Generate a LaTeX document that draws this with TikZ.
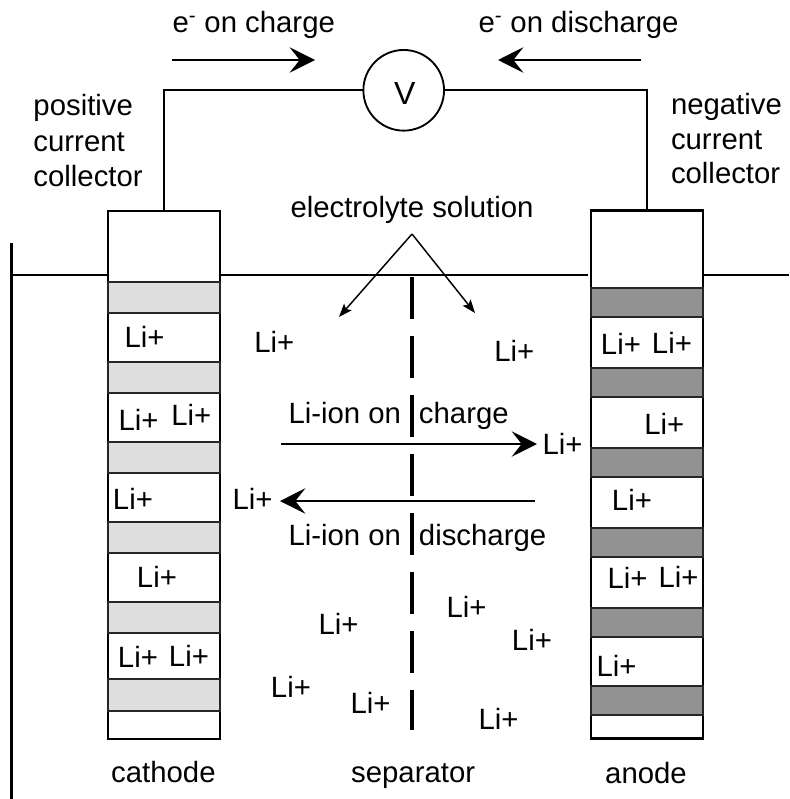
\documentclass[tikz,border=0pt]{standalone}
\usepackage{fontspec}
\setmainfont{Liberation Sans}
\usetikzlibrary{arrows.meta}
\tikzset{
  lbl/.style={anchor=base west,inner sep=0pt,outer sep=0pt,text=black,font=\fontsize{22}{26}\selectfont},
  cellbox/.style={draw=black,fill=white,inner sep=0pt,outer sep=0pt,minimum width=84pt,minimum height=396pt},
  wire/.style={draw=black,line width=1.5pt},
  bandc/.style={draw=black!85,line width=1.3pt,fill=catgrey},
  banda/.style={draw=black!85,line width=1.6pt,fill=angrey},
  bigarrow/.style={draw=black,line width=1.5pt,-{Stealth[length=19pt,width=19pt,inset=7.5pt]}},
  thinarrow/.style={draw=black,line width=1.1pt,-{Stealth[length=10pt,width=7.5pt,inset=2pt]}},
  membrane/.style={draw=black,line width=3.7pt,dash pattern=on 32pt off 12.25pt}
}
\definecolor{catgrey}{HTML}{DFDFDF}
\definecolor{angrey}{HTML}{929292}
\begin{document}
\begin{tikzpicture}[x=.75pt,y=-.75pt]
\useasboundingbox (0,0) rectangle (789,799);
% liquid level and container
\coordinate (barTop) at (11.5,243);
\coordinate (barBot) at (11.5,799);
\coordinate (levL) at (11.5,274.5);
\coordinate (levM1) at (220,274.5);
\coordinate (levM2) at (588,274.5);
\coordinate (levR1) at (704,274.5);
\coordinate (levR2) at (789,274.5);
\coordinate (levC) at (108,274.5);
\draw[black,line width=2.6pt] (barTop) -- (barBot);
\draw[wire] (levL) -- (levC);
\draw[wire] (levM1) -- (levM2);
\draw[wire] (levR1) -- (levR2);
% cells
\node[cellbox,line width=1.4pt] (cathode) at (164,474.6) {};
\node[cellbox,line width=1.7pt] (anode) at (647,474.6) {};
\foreach \a/\b in {282/313.3,361.7/393,441.7/473,521.7/553,601.7/633,679.3/711.3}
  \draw[bandc] (108,\a) rectangle (220,\b);
\foreach \a/\b in {288.3/316.7,368.3/396.7,448.3/477,528.3/556.7,608.3/637,686/715}
  \draw[banda] (591,\a) rectangle (703,\b);
% voltmeter and wires
\node[draw=black,line width=1.4pt,circle,minimum size=60.5pt,inner sep=0pt,outer sep=0pt] (V) at (403.7,90.3) {};
\node[lbl,anchor=base,font=\fontsize{24}{28}\selectfont] (Vtext) at (404.8,104) {V};
\draw[wire] (V.west) -| (cathode.north);
\draw[wire] (V.east) -| (anode.north);
% electron arrows
\coordinate (ec1) at (172,60);
\coordinate (ec2) at (315,60);
\coordinate (ed1) at (641,60);
\coordinate (ed2) at (498,60);
\draw[bigarrow] (ec1) -- (ec2);
\draw[bigarrow] (ed1) -- (ed2);
% separator
\coordinate (sepT) at (412,276.7);
\coordinate (sepB) at (412,730);
\draw[membrane] (sepT) -- (sepB);
% electrolyte pointers
\coordinate (apex) at (412,234);
\coordinate (pL) at (339,317);
\coordinate (pR) at (475,313);
\draw[thinarrow] (apex) -- (pL);
\draw[thinarrow] (apex) -- (pR);
% ion arrows
\coordinate (ic1) at (281,444);
\coordinate (ic2) at (537,444);
\coordinate (id1) at (535,501);
\coordinate (id2) at (280,501);
\draw[bigarrow] (ic1) -- (ic2);
\draw[bigarrow] (id1) -- (id2);
% labels
\node[lbl] (t1) at (172.5,32.7) {e\textsuperscript{-} on charge};
\node[lbl] (t2) at (478.5,32.7) {e\textsuperscript{-} on discharge};
\node[lbl] (t3a) at (33.5,115) {positive};
\node[lbl] (t3b) at (33.5,151) {current};
\node[lbl] (t3c) at (33.5,186) {collector};
\node[lbl] (t4a) at (671,114) {negative};
\node[lbl] (t4b) at (671,149.3) {current};
\node[lbl] (t4c) at (671,183.3) {collector};
\node[lbl] (t5) at (290.5,217.3) {electrolyte solution};
\node[lbl] (t6) at (288.5,423.3) {Li-ion on\hspace{13.5pt}charge};
\node[lbl] (t7) at (288.5,545) {Li-ion on\hspace{13.5pt}discharge};
\node[lbl] (t8) at (111.2,782.3) {cathode};
\node[lbl] (t9) at (351.2,782.3) {separator};
\node[lbl] (t10) at (605.2,783.3) {anode};
\foreach \x/\y [count=\i] in {
  126/347.7,120/430,172.7/425,114.3/509.3,138.3/587.7,119.3/667.3,170.3/666.7,
  255.7/352.7,495.7/361.7,234/509.3,544/454.3,320/634,272.3/697.3,352/713.3,
  448/617.3,513.3/650,480/729.3,
  602.3/354.3,653.3/353.3,645.7/434.3,613.3/510.7,609/588.3,660/587.7,598/676}
  \node[lbl,xshift=-1pt] (ion\i) at (\x,\y) {Li+};
\end{tikzpicture}
\end{document}
